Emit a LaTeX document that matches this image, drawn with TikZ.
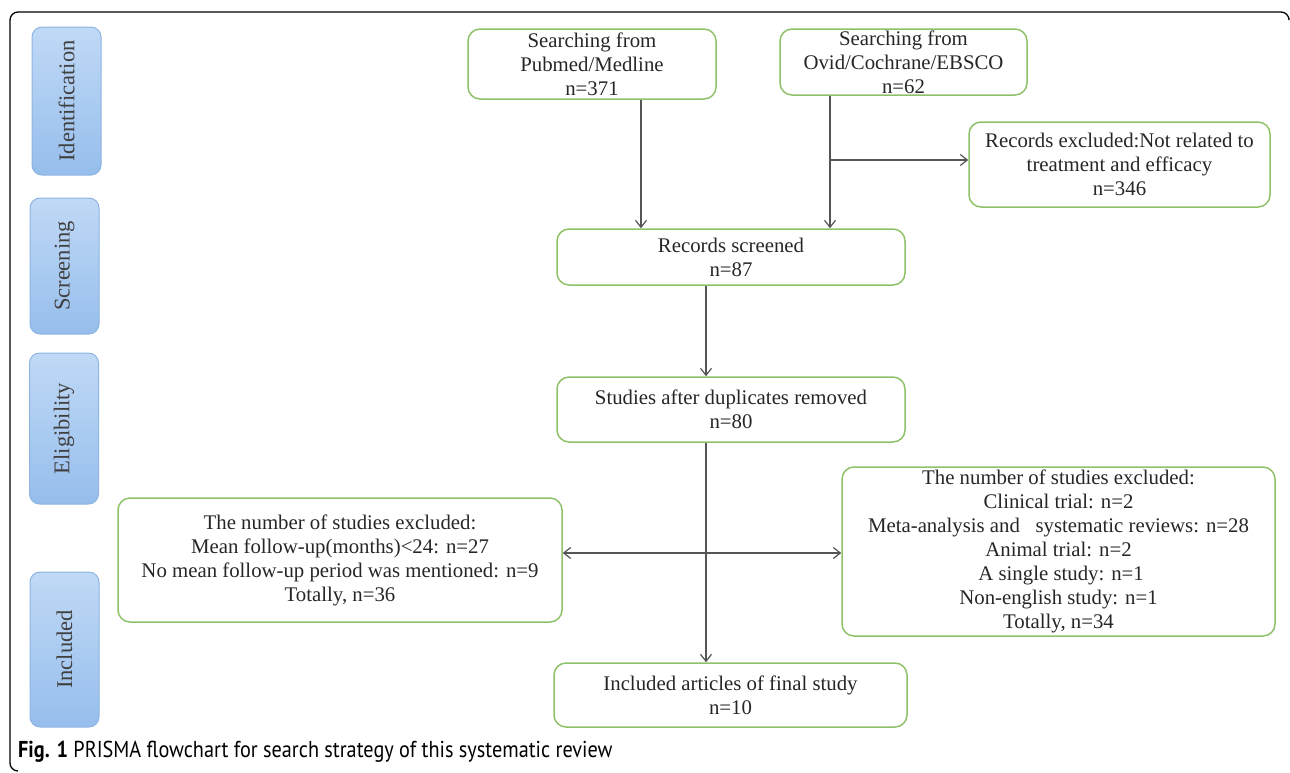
\documentclass[tikz,border=0pt]{standalone}
\usepackage{fontspec}
\setmainfont{Liberation Serif}
\newfontfamily\capfont{PT Sans}
\usetikzlibrary{arrows.meta}
\definecolor{mygreen}{RGB}{141,194,104}
\definecolor{myblue}{RGB}{141,180,226}
\definecolor{mybluetop}{RGB}{192,217,246}
\definecolor{mybluebot}{RGB}{150,190,236}
\definecolor{mygray}{RGB}{85,85,85}

\begin{document}
\begin{tikzpicture}[x=1pt, y=-1pt,
  box/.style={draw=mygreen, line width=1.5pt, rounded corners=12pt, align=center, inner sep=0pt,
    font=\fontsize{20.8}{24}\selectfont, text=black!85},
  phase/.style={draw=myblue, line width=1pt, rounded corners=10pt, top color=mybluetop,
    bottom color=mybluebot, minimum width=69pt, inner sep=0pt,
    font=\fontsize{22.5}{26}\selectfont, text=black!75},
  arr/.style={draw=mygray, line width=1.2pt, -{Straight Barb[length=7pt,width=11pt]}}]
\useasboundingbox (0,0) rectangle (1290,772);
% Frame round the figure
\draw[line width=1.3pt, rounded corners=8pt] (18,771) -- (10,771) -- (10,12) -- (1289,12) -- (1289,18);

% Phases on the left
\node[phase, minimum height=148pt] (ident) at (66.5,101) {\rotatebox{90}{Identification}};
\node[phase, minimum height=136pt] (screen) at (64.5,266) {\rotatebox{90}{Screening}};
\node[phase, minimum height=151pt] (elig) at (64,428.5) {\rotatebox{90}{Eligibility}};
\node[phase, minimum height=155pt] (incl) at (64.5,649.5) {\rotatebox{90}{Included}};

% Flow boxes
\node[box, minimum width=248pt, minimum height=70pt] (pubmed) at (592,64) {Searching from\\Pubmed/Medline\\n=371};
\node[box, minimum width=247pt, minimum height=66pt] (ovid) at (903.5,62) {Searching from\\Ovid/Cochrane/EBSCO\\n=62};
\node[box, minimum width=301pt, minimum height=85pt] (excl1) at (1119.5,164.5) {Records excluded:Not related to\\treatment and efficacy\\n=346};
\node[box, minimum width=348pt, minimum height=56pt] (screened) at (731,257) {Records screened\\n=87};
\node[box, minimum width=348pt, minimum height=65pt] (dup) at (731,409.5) {Studies after duplicates removed\\n=80};
\node[box, minimum width=444pt, minimum height=124pt] (leftx) at (340,560) {The number of studies excluded:\\Mean follow-up(months)<24: n=27\\No mean follow-up period was mentioned: n=9\\Totally, n=36};
\node[box, minimum width=433pt, minimum height=169pt] (rightx) at (1058.5,551.5) {The number of studies excluded:\\Clinical trial: n=2\\Meta-analysis and\ \ \ systematic reviews: n=28\\Animal trial: n=2\\\ A single study: n=1\\Non-english study: n=1\\Totally, n=34};
\node[box, minimum width=353pt, minimum height=64pt] (final) at (730.5,695) {Included articles of final study\\n=10};

% Connectors
\coordinate (branch) at (830,160);
\coordinate (split) at (706,553);
\draw[arr] ([xshift=49pt]pubmed.south) -- ([xshift=-90pt]screened.north);
\draw[arr] ([xshift=-73.5pt]ovid.south) -- ([xshift=99pt]screened.north);
\draw[arr] (branch) -- (branch -| excl1.west);
\draw[arr] ([xshift=-25pt]screened.south) -- ([xshift=-25pt]dup.north);
\draw[arr] ([xshift=-25pt]dup.south) -- ([xshift=-24.5pt]final.north);
\draw[arr] (split) -- (split -| leftx.east);
\draw[arr] (split) -- (split -| rightx.west);

% Caption
\node[anchor=base west, inner sep=0pt, font=\capfont\fontsize{23}{26}\selectfont] (cap) at (18,757)
  {\scalebox{0.88}[1]{\textbf{Fig. 1} PRISMA flowchart for search strategy of this systematic review}};
\end{tikzpicture}
\end{document}
